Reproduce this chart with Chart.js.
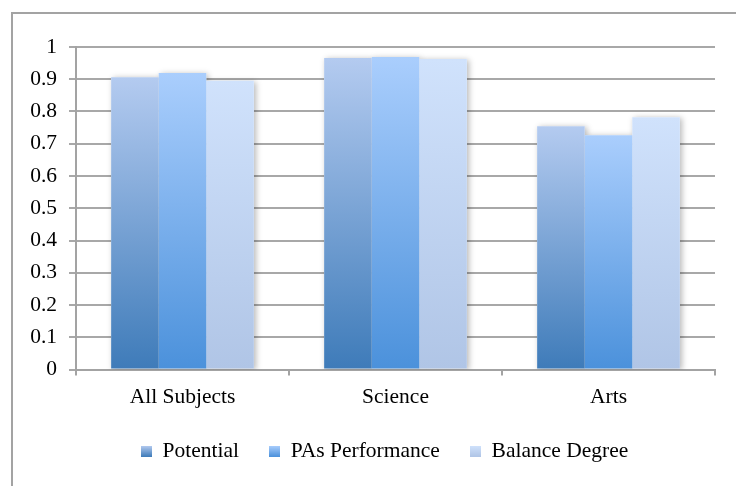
<!DOCTYPE html>
<html>
<head>
<meta charset="utf-8">
<script src="https://cdn.jsdelivr.net/npm/chart.js@4/dist/chart.umd.min.js"></script>
<style>
  html, body { margin: 0; padding: 0; background: #ffffff; }
  #wrap { width: 736px; height: 486px; position: relative; }
</style>
</head>
<body>
<div id="wrap"><canvas id="c" width="736" height="486"></canvas></div>
<script>
// ---- data ----
const categories = ['All Subjects', 'Science', 'Arts'];
const seriesNames = ['Potential', 'PAs Performance', 'Balance Degree'];
const potential = [0.906, 0.966, 0.754];
const pasPerformance = [0.919, 0.969, 0.726];
const balanceDegree = [0.895, 0.963, 0.782];
const yMin = 0, yMax = 1, yStep = 0.1;

// ---- styles ----
const FONT = '"Liberation Serif", "Times New Roman", serif';
const FSIZE = 21.5;
const gradStops = [
  { top: '#b4cbf0', bottom: '#3e7bb9' },
  { top: '#aacefd', bottom: '#4b91db' },
  { top: '#d0e2fc', bottom: '#b0c5e6' }
];

function barGradient(i) {
  return function (ctx) {
    const chart = ctx.chart;
    const area = chart.chartArea;
    const y = chart.scales && chart.scales.y;
    if (!area || !y || !ctx.parsed) {
      return gradStops[i].bottom;
    }
    const top = y.getPixelForValue(ctx.parsed.y);
    const bottom = y.getPixelForValue(0);
    const g = chart.ctx.createLinearGradient(0, bottom, 0, top);
    g.addColorStop(0, gradStops[i].bottom);
    g.addColorStop(1, gradStops[i].top);
    return g;
  };
}

function legendSwatch(i) {
  const s = 11;
  const cv = document.createElement('canvas');
  cv.width = s; cv.height = s;
  const c = cv.getContext('2d');
  const g = c.createLinearGradient(0, s, 0, 0);
  g.addColorStop(0, gradStops[i].bottom);
  g.addColorStop(1, gradStops[i].top);
  c.fillStyle = g;
  c.fillRect(0, 0, s, s);
  return cv;
}
const swatches = [legendSwatch(0), legendSwatch(1), legendSwatch(2)];

const framePlugin = {
  id: 'frame',
  beforeDraw(chart) {
    const c = chart.ctx;
    c.save();
    c.fillStyle = '#ffffff';
    c.fillRect(0, 0, chart.width, chart.height);
    c.strokeStyle = '#a3a3a3';
    c.lineWidth = 2;
    c.strokeRect(12, 13, 900, 900);
    c.restore();
  }
};

// legend is centred within the outer frame, not the plot
const legendShiftPlugin = {
  id: 'legendShift',
  afterLayout(chart) {
    if (chart.legend) {
      chart.legend.left += 27;
      chart.legend.right += 27;
    }
  }
};

const shadowPlugin = {
  id: 'barShadow',
  beforeDatasetsDraw(chart) {
    const c = chart.ctx;
    c.save();
    c.beginPath();
    const a = chart.chartArea;
    c.rect(a.left, a.top - 10, a.right - a.left + 20, a.bottom - a.top + 10);
    c.clip();
    c.shadowColor = 'rgba(0,0,0,0.28)';
    c.shadowBlur = 6;
    c.shadowOffsetX = 2;
    c.shadowOffsetY = 1;
    c.fillStyle = '#ffffff';
    chart.data.datasets.forEach((ds, di) => {
      const meta = chart.getDatasetMeta(di);
      meta.data.forEach(bar => {
        const p = bar.getProps(['x', 'y', 'base', 'width'], true);
        c.fillRect(p.x - p.width / 2, p.y, p.width, p.base - p.y);
      });
    });
    c.restore();
  }
};

const seriesData = [potential, pasPerformance, balanceDegree];

new Chart(document.getElementById('c'), {
  type: 'bar',
  data: {
    labels: categories,
    datasets: seriesNames.map((name, i) => ({
      label: name,
      data: seriesData[i],
      backgroundColor: barGradient(i),
      borderWidth: 0,
      categoryPercentage: 0.67,
      barPercentage: 1.0
    }))
  },
  options: {
    responsive: false,
    animation: false,
    devicePixelRatio: 1,
    layout: { padding: { left: 0, right: 21, top: 47, bottom: 14 } },
    plugins: {
      tooltip: { enabled: false },
      legend: {
        position: 'bottom',
        labels: {
          font: { family: FONT, size: FSIZE },
          color: '#000000',
          usePointStyle: true,
          pointStyleWidth: 11,
          boxHeight: 11,
          padding: 30,
          generateLabels(chart) {
            return chart.data.datasets.map((ds, i) => ({
              text: ds.label,
              fillStyle: gradStops[i].bottom,
              strokeStyle: 'transparent',
              lineWidth: 0,
              pointStyle: swatches[i],
              hidden: false,
              datasetIndex: i
            }));
          }
        }
      }
    },
    scales: {
      x: {
        grid: {
          display: true,
          offset: true,
          drawOnChartArea: false,
          drawTicks: true,
          tickLength: 6,
          color: '#a3a3a3',
          lineWidth: 2
        },
        border: { display: true, color: '#a3a3a3', width: 2 },
        ticks: {
          font: { family: FONT, size: FSIZE },
          color: '#000000',
          padding: 9
        },
        afterFit(scale) { scale.height = 41; }
      },
      y: {
        min: yMin,
        max: yMax,
        grid: {
          color: '#a8a8a8',
          lineWidth: 2,
          drawTicks: true,
          tickLength: 7
        },
        border: { display: true, color: '#a3a3a3', width: 2 },
        ticks: {
          stepSize: yStep,
          font: { family: FONT, size: FSIZE },
          color: '#000000',
          padding: 12,
          callback: (v) => String(+Number(v).toFixed(1))
        },
        afterFit(scale) { scale.width = 76; }
      }
    }
  },
  plugins: [framePlugin, legendShiftPlugin, shadowPlugin]
});
</script>
</body>
</html>
